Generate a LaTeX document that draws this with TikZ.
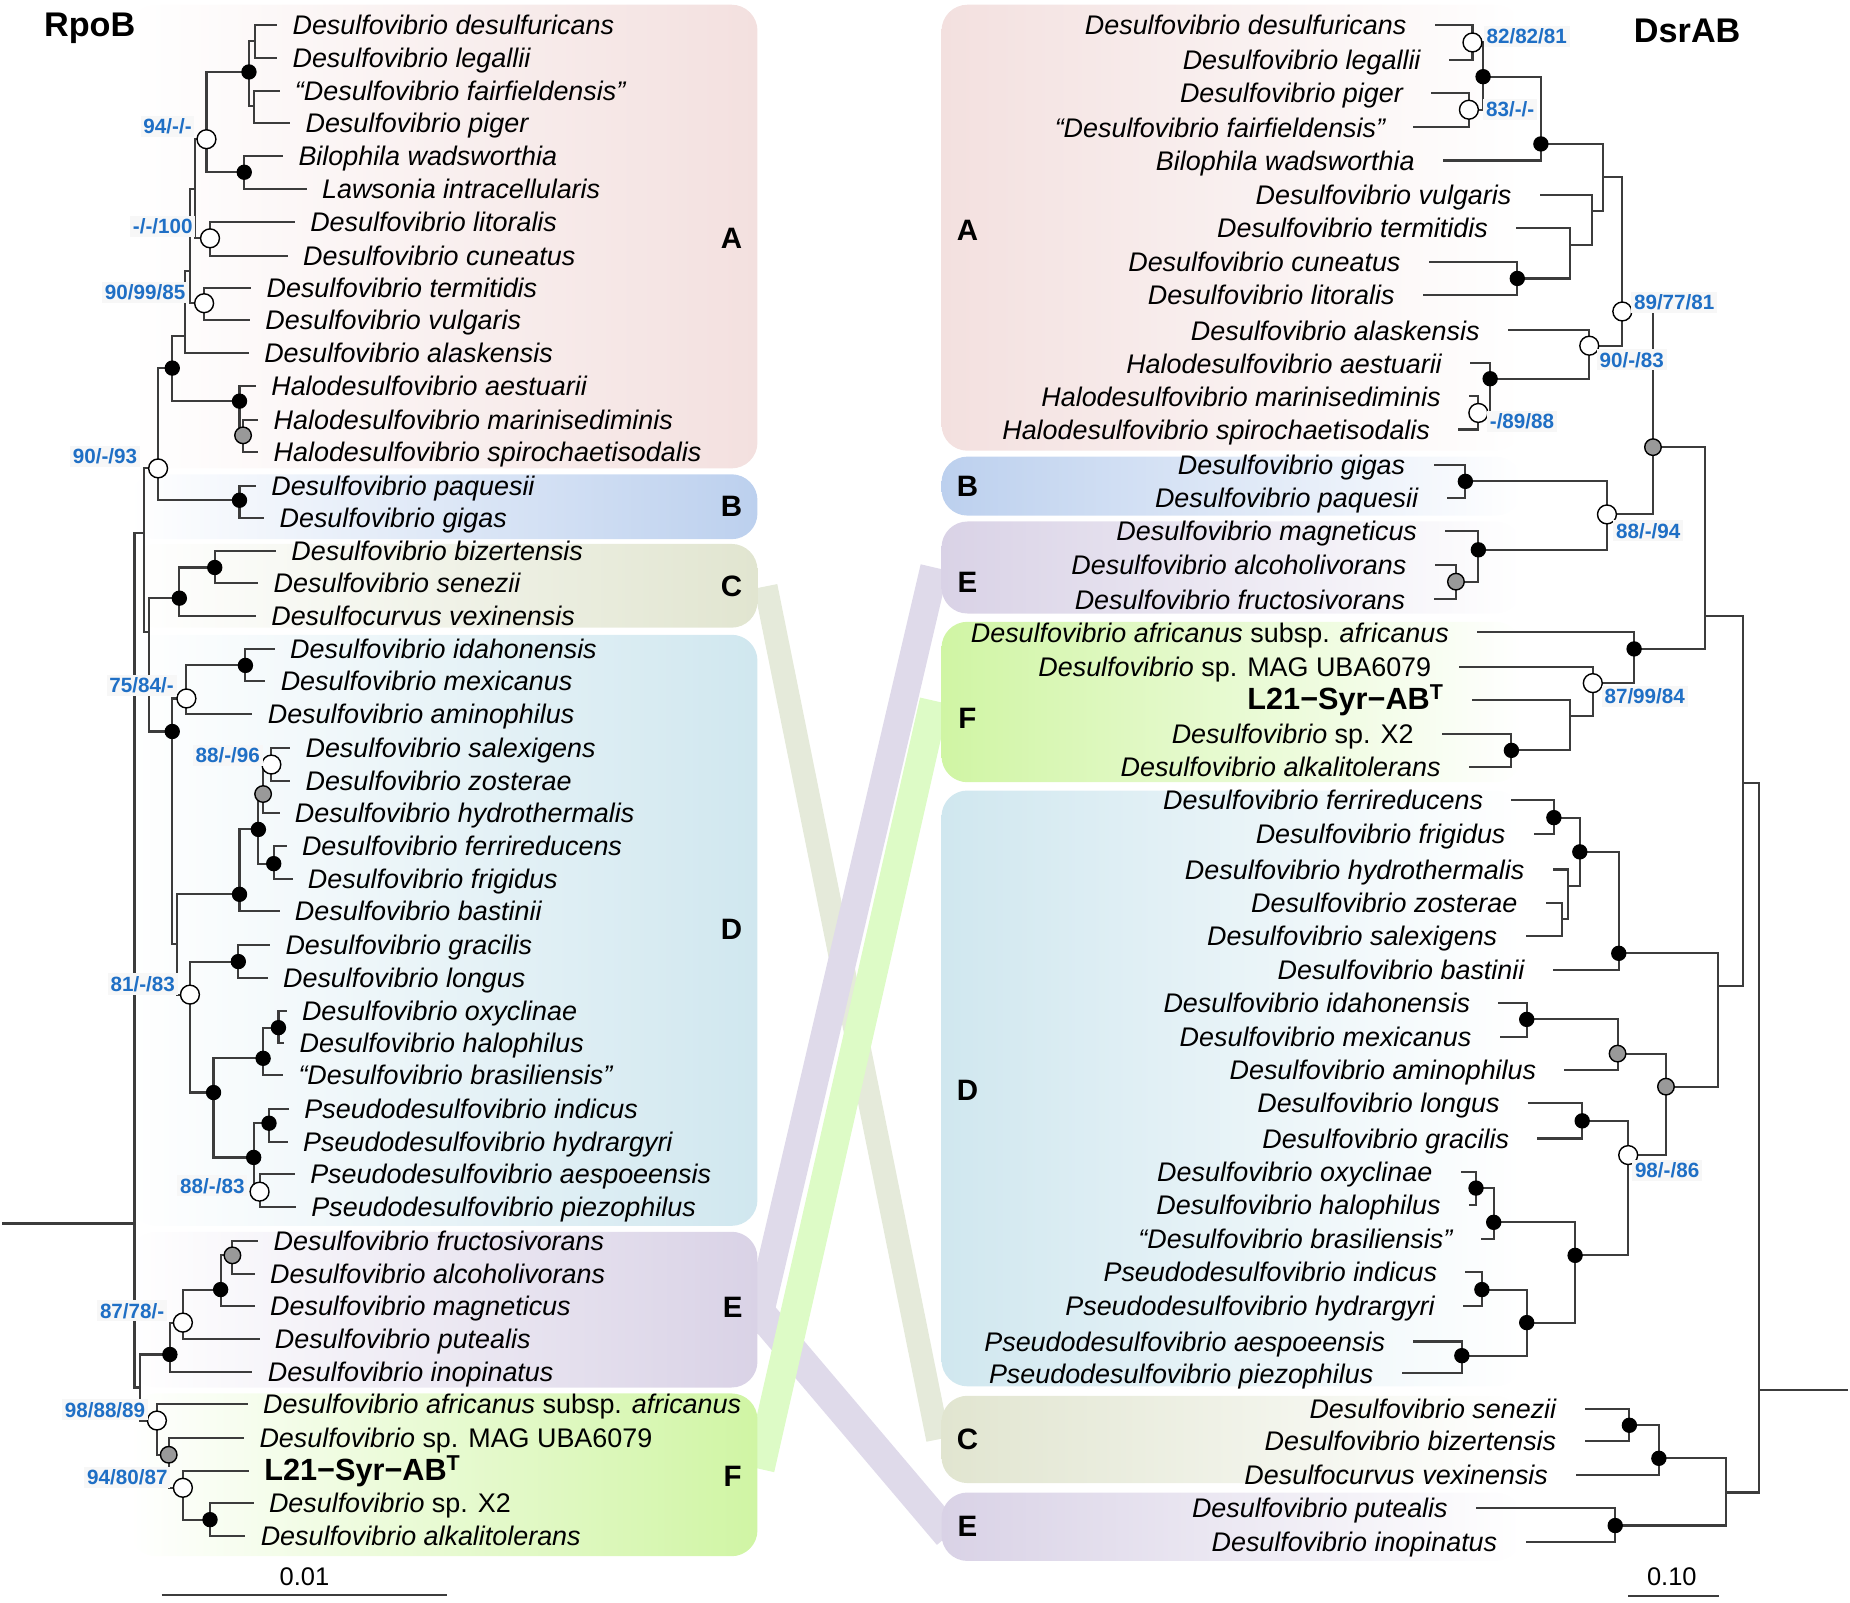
\documentclass[tikz,border=0pt]{standalone}
\usepackage{fontspec}
\setmainfont{Liberation Sans}
\usepackage{xcolor}
\definecolor{treegray}{HTML}{3C3C3C}
\definecolor{bootblue}{HTML}{1F6FC5}
\definecolor{cladeA}{HTML}{F3E0DF}
\definecolor{cladeB}{HTML}{BCD0EE}
\definecolor{cladeC}{HTML}{E1E5D0}
\definecolor{cladeD}{HTML}{D0E7EF}
\definecolor{cladeE}{HTML}{D9D2E6}
\definecolor{cladeF}{HTML}{D0F5A4}
\definecolor{linkC}{HTML}{E5EADA}
\definecolor{linkE}{HTML}{DFDAEA}
\definecolor{linkF}{HTML}{DDFBC6}
\newcommand{\taxfont}{\itshape\fontsize{11.4}{13}\selectfont}
\newcommand{\strainfont}{\bfseries\fontsize{13}{15}\selectfont}
\newcommand{\bootfont}{\bfseries\fontsize{8.75}{10}\selectfont}
\pgfdeclarelayer{boxes}
\pgfdeclarelayer{edges}
\pgfsetlayers{boxes,edges,main}
\tikzset{
branch/.style={draw=treegray, line width=0.9pt}, % tree branches
leafL/.style={anchor=west, inner sep=0pt, outer xsep=6.5pt, text height=8.2pt, text depth=0pt, font=\taxfont}, % taxa of the RpoB tree
leafR/.style={anchor=east, inner sep=0pt, outer xsep=12pt, text height=8.2pt, text depth=0pt, font=\taxfont}, % taxa of the DsrAB tree
bnode/.style={circle, draw=black, fill=black, line width=0.5pt, minimum size=6pt, inner sep=0pt}, % full support
onode/.style={circle, draw=black, fill=white, line width=0.6pt, minimum size=8pt, inner sep=0pt}, % support in some analyses
gnode/.style={circle, draw=black, fill=black!40, line width=0.6pt, minimum size=7pt, inner sep=0pt}, % grey node
boot/.style={font=\bootfont, text=bootblue, fill=black!3, inner sep=1.2pt}, % support values
cladelbl/.style={font=\bfseries\fontsize{12.5}{14}\selectfont},
treetitle/.style={font=\bfseries\fontsize{14.5}{16}\selectfont},
lbox/.style={rounded corners=11pt, left color=white},
rbox/.style={rounded corners=11pt, right color=white},
}

\begin{document}
\begin{tikzpicture}[x=0.5pt, y=-0.5pt]
\useasboundingbox (0,0) rectangle (1568,1358);

\node[treetitle] (tRpo) at (76,24) {RpoB};
\node[treetitle] (tDsr) at (1430,26) {DsrAB};

% RpoB taxa
\node[leafL] (ldes) at (235,21) {Desulfovibrio desulfuricans};
\node[leafL] (lleg) at (235,49) {Desulfovibrio legallii};
\node[leafL] (lfai) at (237,77) {“Desulfovibrio fairfieldensis”};
\node[leafL] (lpig) at (246,104) {Desulfovibrio piger};
\node[leafL] (lbil) at (240,132) {Bilophila wadsworthia};
\node[leafL] (llaw) at (260,160) {Lawsonia intracellularis};
\node[leafL] (llit) at (250,188) {Desulfovibrio litoralis};
\node[leafL] (lcun) at (244,217) {Desulfovibrio cuneatus};
\node[leafL] (lter) at (213,244) {Desulfovibrio termitidis};
\node[leafL] (lvul) at (212,271) {Desulfovibrio vulgaris};
\node[leafL] (lala) at (211,299) {Desulfovibrio alaskensis};
\node[leafL] (laes) at (217,327) {Halodesulfovibrio aestuarii};
\node[leafL] (lmar) at (219,356) {Halodesulfovibrio marinisediminis};
\node[leafL] (lspi) at (219,383) {Halodesulfovibrio spirochaetisodalis};
\node[leafL] (lpaq) at (217,412) {Desulfovibrio paquesii};
\node[leafL] (lgig) at (224,439) {Desulfovibrio gigas};
\node[leafL] (lbiz) at (234,467) {Desulfovibrio bizertensis};
\node[leafL] (lsen) at (219,494) {Desulfovibrio senezii};
\node[leafL] (lvex) at (217,522) {Desulfocurvus vexinensis};
\node[leafL] (lida) at (233,550) {Desulfovibrio idahonensis};
\node[leafL] (lmex) at (225,577) {Desulfovibrio mexicanus};
\node[leafL] (lami) at (214,605) {Desulfovibrio aminophilus};
\node[leafL] (lsal) at (246,634) {Desulfovibrio salexigens};
\node[leafL] (lzos) at (246,662) {Desulfovibrio zosterae};
\node[leafL] (lhyd) at (237,689) {Desulfovibrio hydrothermalis};
\node[leafL] (lfer) at (243,717) {Desulfovibrio ferrireducens};
\node[leafL] (lfri) at (248,745) {Desulfovibrio frigidus};
\node[leafL] (lbas) at (237,772) {Desulfovibrio bastinii};
\node[leafL] (lgra) at (229,801) {Desulfovibrio gracilis};
\node[leafL] (llon) at (227,829) {Desulfovibrio longus};
\node[leafL] (loxy) at (243,857) {Desulfovibrio oxyclinae};
\node[leafL] (lhal) at (241,884) {Desulfovibrio halophilus};
\node[leafL] (lbra) at (240,911) {“Desulfovibrio brasiliensis”};
\node[leafL] (lind) at (245,940) {Pseudodesulfovibrio indicus};
\node[leafL] (lhyr) at (244,968) {Pseudodesulfovibrio hydrargyri};
\node[leafL] (lasp) at (250,995) {Pseudodesulfovibrio aespoeensis};
\node[leafL] (lpie) at (251,1023) {Pseudodesulfovibrio piezophilus};
\node[leafL] (lfru) at (219,1052) {Desulfovibrio fructosivorans};
\node[leafL] (lalc) at (216,1080) {Desulfovibrio alcoholivorans};
\node[leafL] (lmag) at (216,1107) {Desulfovibrio magneticus};
\node[leafL] (lput) at (220,1135) {Desulfovibrio putealis};
\node[leafL] (lino) at (214,1163) {Desulfovibrio inopinatus};
\node[leafL] (lafr) at (210,1190) {Desulfovibrio africanus \textup{subsp.} africanus};
\node[leafL] (lMAG) at (207,1219) {Desulfovibrio \textup{sp. MAG UBA6079}};
\node[leafL, font=\strainfont] (lL21) at (211,1247) {L21−Syr−AB\textsuperscript{T}};
\node[leafL] (lX2) at (215,1274) {Desulfovibrio \textup{sp. X2}};
\node[leafL] (lalk) at (208,1302) {Desulfovibrio alkalitolerans};

% RpoB inner nodes
\coordinate (a1) at (216,35);
\coordinate (a2) at (215,90);
\node[bnode] (n1) at (211,61) {};
\node[bnode] (n2) at (207,146) {};
\node[onode] (n3) at (175,118) {};
\node[onode] (n4) at (178,202) {};
\node[onode] (n5) at (173,257) {};
\coordinate (p1) at (165,160);
\coordinate (p2) at (161,230);
\coordinate (p3) at (157,285);
\node[bnode] (n6) at (146,312) {};
\node[bnode] (n7) at (203,340) {};
\node[gnode] (n8) at (206,369) {};
\node[onode] (n9) at (134,397) {};
\node[bnode] (n10) at (203,424) {};
\node[bnode] (c1) at (182,481) {};
\node[bnode] (c2) at (152,507) {};
\node[bnode] (d1) at (208,564) {};
\node[onode] (d2) at (158,592) {};
\node[onode] (d3) at (230,648) {};
\node[gnode] (d4) at (223,673) {};
\node[bnode] (d5) at (232,732) {};
\node[bnode] (d6) at (219,703) {};
\node[bnode] (d7) at (203,758) {};
\node[bnode] (d8) at (202,815) {};
\node[bnode] (d9) at (236,871) {};
\node[bnode] (d10) at (223,897) {};
\node[bnode] (d11) at (228,952) {};
\node[onode] (d12) at (220,1010) {};
\node[bnode] (d13) at (215,981) {};
\node[bnode] (d14) at (181,926) {};
\node[onode] (d15) at (161,843) {};
\coordinate (d16) at (150,800);
\node[bnode] (d17) at (146,620) {};
\coordinate (cd) at (126,536);
\coordinate (b1) at (122,452);
\node[gnode] (e1) at (197,1064) {};
\node[bnode] (e2) at (187,1093) {};
\node[onode] (e3) at (155,1121) {};
\node[bnode] (e4) at (144,1148) {};
\node[bnode] (f1) at (178,1288) {};
\node[onode] (f2) at (155,1261) {};
\node[gnode] (f3) at (143,1233) {};
\node[onode] (f4) at (133,1204) {};
\coordinate (ef) at (119,1176);
\coordinate (lroot) at (114,1037);
\coordinate (lroot0) at (2,1037);

\node[boot] (bs1) at (142,107) {94/-/-};
\node[boot] (bs2) at (138,192) {-/-/100};
\node[boot] (bs3) at (123,248) {90/99/85};
\node[boot] (bs4) at (89,387) {90/-/93};
\node[boot] (bs5) at (120,581) {75/84/-};
\node[boot] (bs6) at (193,640) {88/-/96};
\node[boot] (bs7) at (121,834) {81/-/83};
\node[boot] (bs8) at (180,1005) {88/-/83};
\node[boot] (bs9) at (112,1111) {87/78/-};
\node[boot] (bs10) at (89,1195) {98/88/89};
\node[boot] (bs11) at (108,1252) {94/80/87};

% DsrAB taxa
\node[leafR] (rdes) at (1216,21) {Desulfovibrio desulfuricans};
\node[leafR] (rleg) at (1228,51) {Desulfovibrio legallii};
\node[leafR] (rpig) at (1213,79) {Desulfovibrio piger};
\node[leafR] (rfai) at (1198,108) {“Desulfovibrio fairfieldensis”};
\node[leafR] (rbil) at (1223,136) {Bilophila wadsworthia};
\node[leafR] (rvul) at (1305,165) {Desulfovibrio vulgaris};
\node[leafR] (rter) at (1285,193) {Desulfovibrio termitidis};
\node[leafR] (rcun) at (1211,222) {Desulfovibrio cuneatus};
\node[leafR] (rlit) at (1206,250) {Desulfovibrio litoralis};
\node[leafR] (rala) at (1278,280) {Desulfovibrio alaskensis};
\node[leafR] (raes) at (1246,308) {Halodesulfovibrio aestuarii};
\node[leafR] (rmar) at (1245,336) {Halodesulfovibrio marinisediminis};
\node[leafR] (rspi) at (1236,364) {Halodesulfovibrio spirochaetisodalis};
\node[leafR] (rgig) at (1215,394) {Desulfovibrio gigas};
\node[leafR] (rpaq) at (1226,422) {Desulfovibrio paquesii};
\node[leafR] (rmag) at (1225,450) {Desulfovibrio magneticus};
\node[leafR] (ralc) at (1216,479) {Desulfovibrio alcoholivorans};
\node[leafR] (rfru) at (1215,508) {Desulfovibrio fructosivorans};
\node[leafR] (rafr) at (1252,536) {Desulfovibrio africanus \textup{subsp.} africanus};
\node[leafR] (rMAG) at (1237,565) {Desulfovibrio \textup{sp. MAG UBA6079}};
\node[leafR, font=\strainfont] (rL21) at (1248,593) {L21−Syr−AB\textsuperscript{T}};
\node[leafR] (rX2) at (1222,622) {Desulfovibrio \textup{sp. X2}};
\node[leafR] (ralk) at (1245,650) {Desulfovibrio alkalitolerans};
\node[leafR] (rfer) at (1281,678) {Desulfovibrio ferrireducens};
\node[leafR] (rfri) at (1300,707) {Desulfovibrio frigidus};
\node[leafR] (rhyd) at (1316,737) {Desulfovibrio hydrothermalis};
\node[leafR] (rzos) at (1310,765) {Desulfovibrio zosterae};
\node[leafR] (rsal) at (1293,793) {Desulfovibrio salexigens};
\node[leafR] (rbas) at (1316,822) {Desulfovibrio bastinii};
\node[leafR] (rida) at (1270,850) {Desulfovibrio idahonensis};
\node[leafR] (rmex) at (1271,879) {Desulfovibrio mexicanus};
\node[leafR] (rami) at (1326,907) {Desulfovibrio aminophilus};
\node[leafR] (rlon) at (1295,935) {Desulfovibrio longus};
\node[leafR] (rgra) at (1303,965) {Desulfovibrio gracilis};
\node[leafR] (roxy) at (1238,993) {Desulfovibrio oxyclinae};
\node[leafR] (rhal) at (1245,1021) {Desulfovibrio halophilus};
\node[leafR] (rbra) at (1255,1050) {“Desulfovibrio brasiliensis”};
\node[leafR] (rind) at (1242,1078) {Pseudodesulfovibrio indicus};
\node[leafR] (rhyr) at (1240,1107) {Pseudodesulfovibrio hydrargyri};
\node[leafR] (rasp) at (1198,1137) {Pseudodesulfovibrio aespoeensis};
\node[leafR] (rpie) at (1188,1164) {Pseudodesulfovibrio piezophilus};
\node[leafR] (rsen) at (1343,1194) {Desulfovibrio senezii};
\node[leafR] (rbiz) at (1343,1221) {Desulfovibrio bizertensis};
\node[leafR] (rvex) at (1336,1250) {Desulfocurvus vexinensis};
\node[leafR] (rput) at (1251,1278) {Desulfovibrio putealis};
\node[leafR] (rino) at (1293,1307) {Desulfovibrio inopinatus};

% DsrAB inner nodes
\node[onode] (r1) at (1248,36) {};
\node[onode] (r2) at (1245,93) {};
\node[bnode] (r3) at (1257,65) {};
\node[bnode] (r4) at (1306,122) {};
\node[bnode] (r5) at (1286,236) {};
\coordinate (r6) at (1331,208);
\coordinate (r7) at (1349,179);
\coordinate (r8) at (1359,150);
\node[bnode] (r9) at (1263,321) {};
\node[onode] (r10) at (1253,350) {};
\node[onode] (r11) at (1347,293) {};
\node[onode] (r12) at (1375,264) {};
\node[bnode] (r13) at (1242,408) {};
\node[gnode] (r14) at (1234,493) {};
\node[bnode] (r15) at (1253,466) {};
\node[onode] (r16) at (1362,436) {};
\node[gnode] (r17) at (1401,379) {};
\node[bnode] (r18) at (1281,636) {};
\coordinate (r19) at (1331,607);
\node[onode] (r20) at (1350,579) {};
\node[bnode] (r21) at (1385,550) {};
\coordinate (r22) at (1445,522);
\node[bnode] (r23) at (1317,693) {};
\coordinate (r24) at (1324,779);
\coordinate (r25) at (1329,751);
\node[bnode] (r26) at (1339,722) {};
\node[bnode] (r27) at (1372,808) {};
\node[bnode] (r28) at (1294,864) {};
\node[gnode] (r29) at (1371,893) {};
\node[bnode] (r30) at (1341,950) {};
\node[bnode] (r31) at (1251,1007) {};
\node[bnode] (r32) at (1266,1036) {};
\node[bnode] (r33) at (1256,1093) {};
\node[bnode] (r34) at (1239,1149) {};
\node[bnode] (r35) at (1294,1121) {};
\node[bnode] (r36) at (1335,1064) {};
\node[onode] (r37) at (1380,979) {};
\node[gnode] (r38) at (1412,921) {};
\coordinate (r39) at (1456,836);
\coordinate (r40) at (1477,664);
\node[bnode] (r41) at (1381,1208) {};
\node[bnode] (r42) at (1406,1236) {};
\node[bnode] (r43) at (1369,1293) {};
\coordinate (r44) at (1463,1265);
\coordinate (rroot) at (1491,1178);
\coordinate (rroot0) at (1566,1178);

\node[boot] (bs12) at (1294,31) {82/82/81};
\node[boot] (bs13) at (1280,93) {83/-/-};
\node[boot] (bs14) at (1419,256) {89/77/81};
\node[boot] (bs15) at (1383,305) {90/-/83};
\node[boot] (bs16) at (1290,357) {-/89/88};
\node[boot] (bs17) at (1397,450) {88/-/94};
\node[boot] (bs18) at (1394,590) {87/99/84};
\node[boot] (bs19) at (1413,992) {98/-/86};

% clade letters
\node[cladelbl] (lA) at (620,202) {A};
\node[cladelbl] (lB) at (620,429) {B};
\node[cladelbl] (lC) at (620,497) {C};
\node[cladelbl] (lD) at (620,788) {D};
\node[cladelbl] (lE) at (621,1108) {E};
\node[cladelbl] (lF) at (621,1251) {F};
\node[cladelbl] (rA) at (820,195) {A};
\node[cladelbl] (rB) at (820,412) {B};
\node[cladelbl] (rE1) at (820,494) {E};
\node[cladelbl] (rF) at (820,609) {F};
\node[cladelbl] (rD) at (820,924) {D};
\node[cladelbl] (rC) at (820,1220) {C};
\node[cladelbl] (rE2) at (820,1294) {E};

% scale bars
\coordinate (lbar1) at (137,1352);
\coordinate (lbar2) at (379,1352);
\node[font=\fontsize{10.8}{12}\selectfont] (lbarlbl) at (258,1336) {0.01};
\coordinate (rbar1) at (1380,1353);
\coordinate (rbar2) at (1457,1353);
\node[font=\fontsize{10.8}{12}\selectfont] (rbarlbl) at (1417,1336) {0.10};

\begin{pgfonlayer}{edges}
\draw[branch] (lbar1) -- (lbar2);
\draw[branch] (rbar1) -- (rbar2);
% RpoB branches
\draw[branch] (a1.center) |- (ldes.west) (a1.center) |- (lleg.west);
\draw[branch] (a2.center) |- (lfai.west) (a2.center) |- (lpig.west);
\draw[branch] (n1.center) |- (a1.center) (n1.center) |- (a2.center);
\draw[branch] (n2.center) |- (lbil.west) (n2.center) |- (llaw.west);
\draw[branch] (n3.center) |- (n1.center) (n3.center) |- (n2.center);
\draw[branch] (n4.center) |- (llit.west) (n4.center) |- (lcun.west);
\draw[branch] (n5.center) |- (lter.west) (n5.center) |- (lvul.west);
\draw[branch] (p1.center) |- (n3.center) (p1.center) |- (n4.center);
\draw[branch] (p2.center) |- (p1.center) (p2.center) |- (n5.center);
\draw[branch] (p3.center) |- (p2.center) (p3.center) |- (lala.west);
\draw[branch] (n6.center) |- (p3.center) (n6.center) |- (n7.center);
\draw[branch] (n7.center) |- (laes.west) (n7.center) |- (n8.center);
\draw[branch] (n8.center) |- (lmar.west) (n8.center) |- (lspi.west);
\draw[branch] (n9.center) |- (n6.center) (n9.center) |- (n10.center);
\draw[branch] (n10.center) |- (lpaq.west) (n10.center) |- (lgig.west);
\draw[branch] (c1.center) |- (lbiz.west) (c1.center) |- (lsen.west);
\draw[branch] (c2.center) |- (c1.center) (c2.center) |- (lvex.west);
\draw[branch] (d1.center) |- (lida.west) (d1.center) |- (lmex.west);
\draw[branch] (d2.center) |- (d1.center) (d2.center) |- (lami.west);
\draw[branch] (d3.center) |- (lsal.west) (d3.center) |- (lzos.west);
\draw[branch] (d4.center) |- (d3.center) (d4.center) |- (lhyd.west);
\draw[branch] (d5.center) |- (lfer.west) (d5.center) |- (lfri.west);
\draw[branch] (d6.center) |- (d4.center) (d6.center) |- (d5.center);
\draw[branch] (d7.center) |- (d6.center) (d7.center) |- (lbas.west);
\draw[branch] (d8.center) |- (lgra.west) (d8.center) |- (llon.west);
\draw[branch] (d9.center) |- (loxy.west) (d9.center) |- (lhal.west);
\draw[branch] (d10.center) |- (d9.center) (d10.center) |- (lbra.west);
\draw[branch] (d11.center) |- (lind.west) (d11.center) |- (lhyr.west);
\draw[branch] (d12.center) |- (lasp.west) (d12.center) |- (lpie.west);
\draw[branch] (d13.center) |- (d11.center) (d13.center) |- (d12.center);
\draw[branch] (d14.center) |- (d10.center) (d14.center) |- (d13.center);
\draw[branch] (d15.center) |- (d8.center) (d15.center) |- (d14.center);
\draw[branch] (d16.center) |- (d7.center) (d16.center) |- (d15.center);
\draw[branch] (d17.center) |- (d2.center) (d17.center) |- (d16.center);
\draw[branch] (cd.center) |- (c2.center) (cd.center) |- (d17.center);
\draw[branch] (b1.center) |- (n9.center) (b1.center) |- (cd.center);
\draw[branch] (e1.center) |- (lfru.west) (e1.center) |- (lalc.west);
\draw[branch] (e2.center) |- (e1.center) (e2.center) |- (lmag.west);
\draw[branch] (e3.center) |- (e2.center) (e3.center) |- (lput.west);
\draw[branch] (e4.center) |- (e3.center) (e4.center) |- (lino.west);
\draw[branch] (f1.center) |- (lX2.west) (f1.center) |- (lalk.west);
\draw[branch] (f2.center) |- (lL21.west) (f2.center) |- (f1.center);
\draw[branch] (f3.center) |- (lMAG.west) (f3.center) |- (f2.center);
\draw[branch] (f4.center) |- (lafr.west) (f4.center) |- (f3.center);
\draw[branch] (ef.center) |- (e4.center) (ef.center) |- (f4.center);
\draw[branch] (lroot.center) |- (b1.center) (lroot.center) |- (ef.center);
\draw[branch] (lroot0) -- (lroot);
% DsrAB branches
\draw[branch] (r1.center) |- (rdes.east) (r1.center) |- (rleg.east);
\draw[branch] (r2.center) |- (rpig.east) (r2.center) |- (rfai.east);
\draw[branch] (r3.center) |- (r1.center) (r3.center) |- (r2.center);
\draw[branch] (r4.center) |- (r3.center) (r4.center) |- (rbil.east);
\draw[branch] (r5.center) |- (rcun.east) (r5.center) |- (rlit.east);
\draw[branch] (r6.center) |- (rter.east) (r6.center) |- (r5.center);
\draw[branch] (r7.center) |- (rvul.east) (r7.center) |- (r6.center);
\draw[branch] (r8.center) |- (r4.center) (r8.center) |- (r7.center);
\draw[branch] (r10.center) |- (rmar.east) (r10.center) |- (rspi.east);
\draw[branch] (r9.center) |- (raes.east) (r9.center) |- (r10.center);
\draw[branch] (r11.center) |- (rala.east) (r11.center) |- (r9.center);
\draw[branch] (r12.center) |- (r8.center) (r12.center) |- (r11.center);
\draw[branch] (r13.center) |- (rgig.east) (r13.center) |- (rpaq.east);
\draw[branch] (r14.center) |- (ralc.east) (r14.center) |- (rfru.east);
\draw[branch] (r15.center) |- (rmag.east) (r15.center) |- (r14.center);
\draw[branch] (r16.center) |- (r13.center) (r16.center) |- (r15.center);
\draw[branch] (r17.center) |- (r12.center) (r17.center) |- (r16.center);
\draw[branch] (r18.center) |- (rX2.east) (r18.center) |- (ralk.east);
\draw[branch] (r19.center) |- (rL21.east) (r19.center) |- (r18.center);
\draw[branch] (r20.center) |- (rMAG.east) (r20.center) |- (r19.center);
\draw[branch] (r21.center) |- (rafr.east) (r21.center) |- (r20.center);
\draw[branch] (r22.center) |- (r17.center) (r22.center) |- (r21.center);
\draw[branch] (r23.center) |- (rfer.east) (r23.center) |- (rfri.east);
\draw[branch] (r24.center) |- (rzos.east) (r24.center) |- (rsal.east);
\draw[branch] (r25.center) |- (rhyd.east) (r25.center) |- (r24.center);
\draw[branch] (r26.center) |- (r23.center) (r26.center) |- (r25.center);
\draw[branch] (r27.center) |- (r26.center) (r27.center) |- (rbas.east);
\draw[branch] (r28.center) |- (rida.east) (r28.center) |- (rmex.east);
\draw[branch] (r29.center) |- (r28.center) (r29.center) |- (rami.east);
\draw[branch] (r30.center) |- (rlon.east) (r30.center) |- (rgra.east);
\draw[branch] (r31.center) |- (roxy.east) (r31.center) |- (rhal.east);
\draw[branch] (r32.center) |- (r31.center) (r32.center) |- (rbra.east);
\draw[branch] (r33.center) |- (rind.east) (r33.center) |- (rhyr.east);
\draw[branch] (r34.center) |- (rasp.east) (r34.center) |- (rpie.east);
\draw[branch] (r35.center) |- (r33.center) (r35.center) |- (r34.center);
\draw[branch] (r36.center) |- (r32.center) (r36.center) |- (r35.center);
\draw[branch] (r37.center) |- (r30.center) (r37.center) |- (r36.center);
\draw[branch] (r38.center) |- (r29.center) (r38.center) |- (r37.center);
\draw[branch] (r39.center) |- (r27.center) (r39.center) |- (r38.center);
\draw[branch] (r40.center) |- (r22.center) (r40.center) |- (r39.center);
\draw[branch] (r41.center) |- (rsen.east) (r41.center) |- (rbiz.east);
\draw[branch] (r42.center) |- (r41.center) (r42.center) |- (rvex.east);
\draw[branch] (r43.center) |- (rput.east) (r43.center) |- (rino.east);
\draw[branch] (r44.center) |- (r42.center) (r44.center) |- (r43.center);
\draw[branch] (rroot.center) |- (r40.center) (rroot.center) |- (r44.center);
\draw[branch] (rroot0) -- (rroot);
\end{pgfonlayer}

\begin{pgfonlayer}{boxes}
% links between the clades of both trees
\coordinate (kC1) at (649,497);
\coordinate (kC2) at (795,1220);
\coordinate (kE1) at (640,1130);
\coordinate (kE2) at (792,481);
\coordinate (kE3) at (642,1110);
\coordinate (kE4) at (804,1301);
\coordinate (kF1) at (644,1245);
\coordinate (kF2) at (792,594);
\draw[draw=linkC, line width=10pt] (kC1) -- (kC2);
\draw[draw=linkE, line width=12pt] (kE1) -- (kE2);
\draw[draw=linkE, line width=13pt] (kE3) -- (kE4);
\draw[draw=linkF, line width=12.5pt] (kF1) -- (kF2);
% clade boxes
\shade[lbox, right color=cladeA] (110,4) rectangle (642,397);
\shade[lbox, right color=cladeB] (110,402) rectangle (642,457);
\shade[lbox, right color=cladeC] (110,461) rectangle (642,532);
\shade[lbox, right color=cladeD] (110,538) rectangle (642,1039);
\shade[lbox, right color=cladeE] (110,1044) rectangle (642,1176);
\shade[lbox, right color=cladeF] (110,1181) rectangle (642,1319);
\shade[rbox, left color=cladeA] (798,4) rectangle (1290,382);
\shade[rbox, left color=cladeB] (798,387) rectangle (1290,437);
\shade[rbox, left color=cladeE] (798,442) rectangle (1290,520);
\shade[rbox, left color=cladeF] (798,527) rectangle (1290,663);
\shade[rbox, left color=cladeD] (798,670) rectangle (1290,1175);
\shade[rbox, left color=cladeC] (798,1183) rectangle (1290,1257);
\shade[rbox, left color=cladeE] (798,1265) rectangle (1290,1323);
\end{pgfonlayer}
\end{tikzpicture}
\end{document}
